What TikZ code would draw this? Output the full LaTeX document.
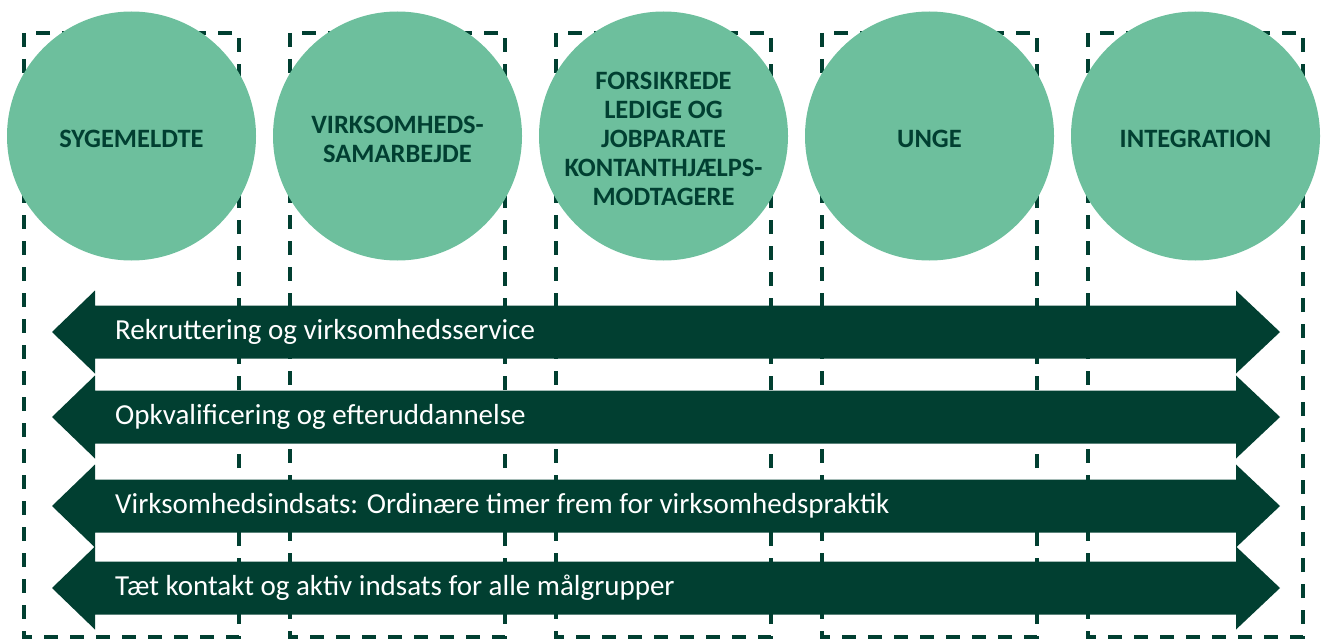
\documentclass[tikz,border=0pt]{standalone}
\usepackage{fontspec}
\setmainfont{Carlito}
\definecolor{mintgreen}{RGB}{109,191,157}
\definecolor{darkgreen}{RGB}{1,63,49}
\tikzset{
  groupbox/.style={draw=darkgreen, line width=4.5pt, dash pattern=on 14pt off 12pt},
  groupcircle/.style={circle, fill=mintgreen, minimum size=249pt, inner sep=0pt},
  grouptext/.style={align=center, inner sep=0pt, text=darkgreen,
    font=\fontsize{26.5}{29}\selectfont\bfseries},
  bandlabel/.style={anchor=west, text=white, inner sep=0pt, font=\fontsize{29}{34}\selectfont}
}

\begin{document}
\begin{tikzpicture}[x=1pt,y=-1pt]
  \useasboundingbox (0,0) rectangle (1322,642);
  % dashed columns
  \foreach \cx in {131.5,397.5,663.5,929.5,1195.5}
    \draw[groupbox] (\cx-107.5,33) rectangle (\cx+107.5,637);
  % target groups
  \foreach \cx/\nm/\txt in {131.5/sygemeldte/SYGEMELDTE,
      397.5/virksomhed/VIRKSOMHEDS-\\SAMARBEJDE,
      663.5/forsikrede/FORSIKREDE\\LEDIGE OG\\JOBPARATE\\KONTANTHJÆLPS-\\MODTAGERE,
      929.5/unge/UNGE,
      1195.5/integration/INTEGRATION}{
    \node[groupcircle] (\nm) at (\cx,136) {};
    \node[grouptext] at ([yshift=-3pt]\nm.center) {\txt};
  }
  % efforts across all groups
  \foreach \cy/\nm/\txt in {332/rekruttering/Rekruttering og virksomhedsservice,
      417/opkvalificering/Opkvalificering og efteruddannelse,
      506/virksomhedsindsats/Virksomhedsindsats: Ordinære timer frem for virksomhedspraktik,
      588/kontakt/Tæt kontakt og aktiv indsats for alle målgrupper}{
    \fill[darkgreen] (52,\cy) -- (95,\cy-41.5) -- (95,\cy-26.5) -- (1236,\cy-26.5)
      -- (1236,\cy-41.5) -- (1280,\cy) -- (1236,\cy+41.5) -- (1236,\cy+26.5)
      -- (95,\cy+26.5) -- (95,\cy+41.5) -- cycle;
    \node[bandlabel] (\nm) at (115,\cy) {\txt};
  }
\end{tikzpicture}
\end{document}
